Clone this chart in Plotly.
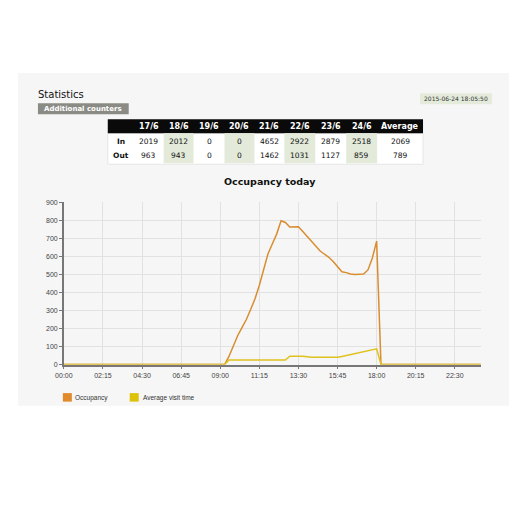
import plotly.graph_objects as go

# ---------------- data ----------------
days = ["17/6", "18/6", "19/6", "20/6", "21/6", "22/6", "23/6", "24/6"]
in_counts = [2019, 2012, 0, 0, 4652, 2922, 2879, 2518]
out_counts = [963, 943, 0, 0, 1462, 1031, 1127, 859]
avg_in = 2069
avg_out = 789

occ_times = ["00:00", "09:15", "09:30", "09:45", "10:00", "10:15", "10:30", "10:45",
             "11:00", "11:15", "11:30", "11:45", "12:00", "12:15", "12:30", "12:45",
             "13:00", "13:15", "13:30", "13:45", "14:00", "14:15", "14:30", "14:45",
             "15:00", "15:15", "15:30", "15:45", "16:00", "16:15", "16:30", "16:45",
             "17:00", "17:15", "17:30", "17:45", "18:00", "18:15", "24:00"]
occ_values = [0, 0, 45, 105, 160, 205, 250, 305,
              365, 440, 530, 615, 670, 725, 798, 788,
              763, 765, 765, 738, 712, 680, 655, 630,
              612, 595, 572, 545, 515, 510, 502, 500,
              500, 502, 525, 590, 685, 0, 0]

avg_times = ["00:00", "09:15", "09:30", "12:45", "13:00", "13:45", "14:15",
             "15:45", "16:00", "16:30", "17:00", "17:30", "18:00", "18:15", "24:00"]
avg_values = [0, 0, 25, 25, 46, 46, 40,
              40, 45, 55, 64, 75, 87, 0, 0]

tick_labels = ["00:00", "02:15", "04:30", "06:45", "09:00", "11:15",
               "13:30", "15:45", "18:00", "20:15", "22:30"]
y_ticks = [0, 100, 200, 300, 400, 500, 600, 700, 800, 900]

series_names = ["Occupancy", "Average visit time"]
timestamp = "2015-06-24 18:05:50"


def hours(t):
    h, m = t.split(":")
    return int(h) + int(m) / 60.0


W = H = 520
# observed mapping from figure px to screenshot px: X = 8 + 0.985 x, Y = 4 + 0.985 y
SC, OX, OY = 0.985, 8.0, 4.0


def px(X):
    return ((X - OX) / SC) / W


def py(Y):
    return 1 - ((Y - OY) / SC) / H


OCC_COLOR = "#d88d30"
AVG_COLOR = "#dfc21c"
OCC_LEG = "#e08a2c"
AVG_LEG = "#dcc30a"
FONT = "DejaVu Sans"

fig = go.Figure()
fig.add_trace(go.Scatter(x=[hours(t) for t in occ_times], y=occ_values, mode="lines",
                         line=dict(color=OCC_COLOR, width=1.5), name=series_names[0]))
fig.add_trace(go.Scatter(x=[hours(t) for t in avg_times], y=avg_values, mode="lines",
                         line=dict(color=AVG_COLOR, width=1.5), name=series_names[1]))

shapes = []
annotations = []

# gray panel
shapes.append(dict(type="rect", xref="paper", yref="paper", x0=px(17), x1=px(509),
                   y0=py(405), y1=py(73), fillcolor="#f6f6f6", line=dict(width=0),
                   layer="below"))

# Statistics heading
annotations.append(dict(text="Statistics", xref="paper", yref="paper", x=px(35), y=py(94),
                        xanchor="left", yanchor="middle", showarrow=False,
                        font=dict(family=FONT, size=10, color="#111")))
# Additional counters button
shapes.append(dict(type="rect", xref="paper", yref="paper", x0=px(37), x1=px(128),
                   y0=py(114), y1=py(103), fillcolor="#8b8b85", line=dict(width=0)))
annotations.append(dict(text="<b>Additional counters</b>", xref="paper", yref="paper",
                        x=px(82.5), y=py(108.5), xanchor="center", yanchor="middle",
                        showarrow=False,
                        font=dict(family=FONT, size=7, color="white")))
# timestamp box
shapes.append(dict(type="rect", xref="paper", yref="paper", x0=px(420), x1=px(492),
                   y0=py(104), y1=py(93), fillcolor="#e4ebdb", line=dict(width=0)))
annotations.append(dict(text=timestamp, xref="paper", yref="paper",
                        x=px(456), y=py(98.5), xanchor="center", yanchor="middle",
                        showarrow=False,
                        font=dict(family=FONT, size=6, color="#333")))

# table
col_edges = [107, 133, 163, 193, 224, 254, 284, 315, 346, 377, 423]
hdr_top, hdr_bot, tbl_bot = 119, 133, 164
row_y = [141.5, 155.5]
shapes.append(dict(type="rect", xref="paper", yref="paper", x0=px(107), x1=px(423),
                   y0=py(tbl_bot), y1=py(hdr_bot), fillcolor="white",
                   line=dict(color="#e6e6e6", width=1)))
shapes.append(dict(type="rect", xref="paper", yref="paper", x0=px(107), x1=px(423),
                   y0=py(hdr_bot), y1=py(hdr_top), fillcolor="#0a0a0a", line=dict(width=0)))
headers = [""] + days + ["Average"]
rows = [["In"] + [str(v) for v in in_counts] + [str(avg_in)],
        ["Out"] + [str(v) for v in out_counts] + [str(avg_out)]]
for i, h in enumerate(headers):
    cx = (col_edges[i] + col_edges[i + 1]) / 2
    if 1 <= i <= 8 and i % 2 == 0:
        shapes.append(dict(type="rect", xref="paper", yref="paper",
                           x0=px(col_edges[i]), x1=px(col_edges[i + 1]),
                           y0=py(tbl_bot - 1), y1=py(hdr_bot), fillcolor="#e3eada",
                           line=dict(width=0)))
    if h:
        annotations.append(dict(text="<b>" + h + "</b>", xref="paper", yref="paper",
                                x=px(cx), y=py((hdr_top + hdr_bot) / 2),
                                xanchor="center", yanchor="middle", showarrow=False,
                                font=dict(family=FONT, size=8, color="white")))
    for r, ry in enumerate(row_y):
        txt = rows[r][i]
        if i == 0:
            txt = "<b>" + txt + "</b>"
        annotations.append(dict(text=txt, xref="paper", yref="paper", x=px(cx), y=py(ry),
                                xanchor="center", yanchor="middle", showarrow=False,
                                font=dict(family=FONT, size=7.5, color="#111")))

# chart title
annotations.append(dict(text="<b>Occupancy today</b>", xref="paper", yref="paper",
                        x=px(270), y=py(181), xanchor="center", yanchor="middle",
                        showarrow=False,
                        font=dict(family=FONT, size=9.5, color="#111")))

# legend
leg = [(62, OCC_LEG, 72), (129, AVG_LEG, 140)]
for (x0, col, tx), name in zip(leg, series_names):
    shapes.append(dict(type="rect", xref="paper", yref="paper", x0=px(x0), x1=px(x0 + 9),
                       y0=py(401), y1=py(392.5), fillcolor=col, line=dict(width=0)))
    annotations.append(dict(text=name, xref="paper", yref="paper", x=px(tx), y=py(397),
                            xanchor="left", yanchor="middle", showarrow=False,
                            font=dict(family="Liberation Sans", size=6.5, color="#333")))

axis_common = dict(showgrid=True, gridcolor="#e2e2e2", gridwidth=1,
                   showline=True, linecolor="#777", linewidth=1.5,
                   ticks="outside", ticklen=3, tickcolor="#777",
                   tickfont=dict(family="Liberation Sans", size=7, color="#444"),
                   zeroline=False, fixedrange=True)

fig.update_layout(
    width=W, height=H, margin=dict(l=0, r=0, t=0, b=0),
    paper_bgcolor="white", plot_bgcolor="#f6f6f6",
    showlegend=False, shapes=shapes, annotations=annotations,
    xaxis=dict(domain=[px(63), px(481)], range=[0, 24],
               tickvals=[hours(t) for t in tick_labels], ticktext=tick_labels,
               **axis_common),
    yaxis=dict(domain=[py(364), py(202)], range=[0, 900], tickvals=y_ticks,
               **axis_common),
)

fig.write_html("out.html")
